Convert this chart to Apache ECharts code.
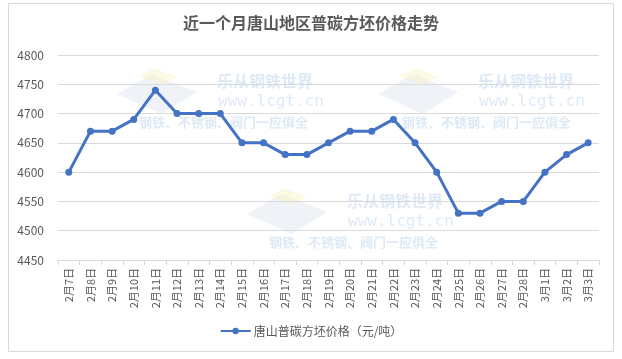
<!DOCTYPE html>
<html><head><meta charset="utf-8">
<script src="https://cdn.jsdelivr.net/npm/echarts@6/dist/echarts.min.js"></script>
<style>html,body{margin:0;padding:0;background:#fff}#c{width:622px;height:359px}</style>
</head><body><div id="c"></div>
<script>
const titleText = '近一个月唐山地区普碳方坯价格走势';
const seriesName = '唐山普碳方坯价格（元/吨）';
const categories = ['2月7日','2月8日','2月9日','2月10日','2月11日','2月12日','2月13日','2月14日','2月15日','2月16日','2月17日','2月18日','2月19日','2月20日','2月21日','2月22日','2月23日','2月24日','2月25日','2月26日','2月27日','2月28日','3月1日','3月2日','3月3日'];
const prices = [4600,4670,4670,4690,4740,4700,4700,4700,4650,4650,4630,4630,4650,4670,4670,4690,4650,4600,4530,4530,4550,4550,4600,4630,4650];
const yTicks = {min:4450, max:4800, interval:50};
const watermarkLines = ['乐从钢铁世界','www.lcgt.cn','钢铁、不锈钢、阀门一应俱全'];

const font = '"Noto Sans CJK SC", "Liberation Sans", sans-serif';
const wmColor = 'rgba(200,218,240,0.6)';
function watermark(x, y, x3) {
  return [
    {type:'polygon', silent:true, z:0, shape:{points:[[x-100,y+12],[x-65,y-8],[x-20,y+10],[x-55,y+32]]}, style:{fill:'rgba(220,226,238,0.45)'}},
    {type:'polygon', silent:true, z:0, shape:{points:[[x-78,y-6],[x-62,y-14],[x-40,y-5],[x-56,y+3]]}, style:{fill:'rgba(250,244,205,0.55)'}},
    {type:'text', silent:true, z:0, left:x, top:y-9, style:{text:watermarkLines[0], fill:wmColor, font:'bold 16px '+font}},
    {type:'text', silent:true, z:0, left:x+1, top:y+12, style:{text:watermarkLines[1], fill:wmColor, font:'16px "DejaVu Sans Mono", monospace'}},
    {type:'text', silent:true, z:0, left:x3, top:y+34, style:{text:watermarkLines[2], fill:wmColor, font:'bold 13px '+font}}
  ];
}

const chart = echarts.init(document.getElementById('c'), null, {renderer:'canvas'});
chart.setOption({
  animation:false,
  backgroundColor:'#fff',
  title:{text:titleText, left:'center', top:10, textStyle:{fontFamily:font, fontSize:16, fontWeight:'bold', color:'#595959'}},
  graphic:[
    {type:'rect', silent:true, z:-1, shape:{x:8.5,y:3.5,width:605,height:348}, style:{fill:'none', stroke:'#d9d9d9', lineWidth:1}},
    ...watermark(217,82,139),
    ...watermark(478,82,402),
    ...watermark(347,202,269)
  ],
  grid:{left:58, right:23, top:55, bottom:99, containLabel:false},
  legend:{bottom:17, left:'center', itemWidth:30, itemHeight:8, itemGap:4, data:[{name:seriesName}], textStyle:{fontFamily:font, fontSize:12, color:'#595959', padding:[0,0,0,-2]}},
  xAxis:{type:'category', data:categories, boundaryGap:true,
    axisLine:{lineStyle:{color:'#d9d9d9'}},
    axisTick:{show:true, alignWithLabel:false, length:5, lineStyle:{color:'#d9d9d9'}},
    axisLabel:{rotate:90, interval:0, fontFamily:font, fontSize:11, color:'#595959', margin:8}},
  yAxis:{type:'value', min:yTicks.min, max:yTicks.max, interval:yTicks.interval,
    axisLine:{show:false}, axisTick:{show:false},
    splitLine:{lineStyle:{color:'#d9d9d9'}},
    axisLabel:{formatter:v => String(v), fontFamily:font, fontSize:12, color:'#595959', margin:14}},
  series:[{name:seriesName, type:'line', data:prices, symbol:'circle', symbolSize:7,
    lineStyle:{color:'#4472C4', width:3}, itemStyle:{color:'#4472C4'}, z:3}]
});
</script></body></html>
